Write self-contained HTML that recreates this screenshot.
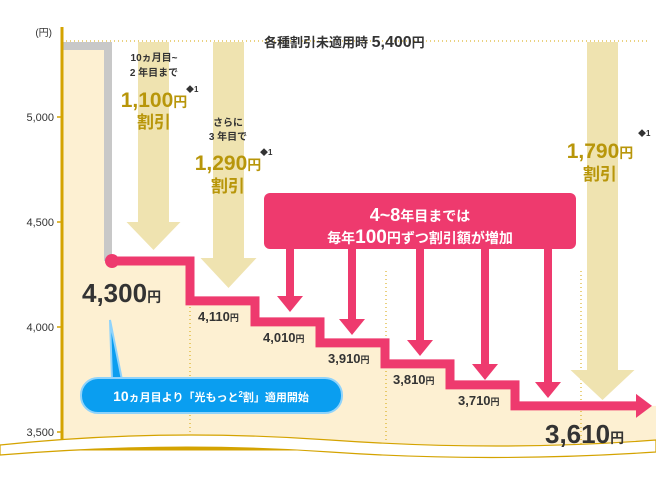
<!DOCTYPE html>
<html><head><meta charset="utf-8"><style>
body{margin:0;background:#fff;}
svg{display:block;font-family:"Liberation Sans","Noto Sans CJK JP",sans-serif;}
</style></head><body>
<svg id="c" width="656" height="477" viewBox="0 0 656 477">
<g id="bg"></g>
<g id="marks"></g>
</svg>
<script>
const yTicks=[5000,4500,4000,3500];
const prices=[4300,4110,4010,3910,3810,3710,3610];
const priceLabels=["4,300","4,110","4,010","3,910","3,810","3,710","3,610"];
const basePrice=5400;
const NS="http://www.w3.org/2000/svg";
const svg=document.getElementById('c');
const bg=document.getElementById('bg'),mk=document.getElementById('marks');
function y(v){return 114+(5000-v)*0.21;}
function x(i){return i===0?112:190+(i-1)*65;}
function el(t,a,p){const e=document.createElementNS(NS,t);for(const k in a)e.setAttribute(k,a[k]);(p||mk).appendChild(e);return e;}
const GOLD="#d4a300",PINK="#ee3a6e",BEIGE="#efe3b0",CREAM="#fdf0d2";
// cream area under line
let d="M62 50 L108 50 L108 "+y(prices[0]);
for(let i=0;i<prices.length;i++){d+=" L"+x(i)+" "+y(prices[i])+" L"+(i<prices.length-1?x(i+1):656)+" "+y(prices[i]);}
d+=" L656 449 L62 449Z";
let a=el('path',{d:d,fill:CREAM},bg);


// dotted gridlines
[190,386,581].forEach(gx=>{let g=el('line',{x1:gx,y1:y(prices[0])+10,x2:gx,y2:449,stroke:GOLD,'stroke-width':1,'stroke-dasharray':'1 3'},bg);});
let dl=el('line',{x1:62,y1:41,x2:650,y2:41,stroke:GOLD,'stroke-width':1,'stroke-dasharray':'1 3'},bg);

// beige discount arrows
function beige(x1,x2,top,headTop,tip,hw,name){let cx=(x1+x2)/2;let p=el('path',{d:`M${x1} ${top}H${x2}V${headTop}H${cx+hw}L${cx} ${tip}L${cx-hw} ${headTop}H${x1}Z`,fill:BEIGE});}
beige(138,169,42,222,250,27,'discount-arrow-1100');
beige(213,244,42,258,288,28,'discount-arrow-1290');
beige(587,618,42,370,400,32,'discount-arrow-1790');
// gray step
let gs=el('path',{d:`M62 46 H108 V${y(prices[0])}`,fill:'none',stroke:'#c8c8c8','stroke-width':8});

// axes
let ax=el('path',{d:'M62 27 V449 H656',fill:'none',stroke:GOLD,'stroke-width':3});

yTicks.forEach(v=>{let t=el('line',{x1:57,x2:62,y1:y(v)+3,y2:y(v)+3,stroke:GOLD,'stroke-width':1.5});
let tx=el('text',{x:54,y:y(v)+7,'text-anchor':'end','font-size':11,fill:'#333'});tx.textContent=v.toLocaleString('en');});
let yu=el('text',{x:52,y:36,'text-anchor':'end','font-size':10,fill:'#333'});yu.textContent='(円)';
// wave break
let wv=el('path',{d:'M0 445 Q160 428 330 440 T656 440 V452 Q490 463 330 452 T0 455Z',fill:'#fff',stroke:GOLD,'stroke-width':1.2});

// pink step line
let pd="M"+x(0)+" "+y(prices[0]);
for(let i=0;i<prices.length;i++){pd+=" H"+(i<prices.length-1?x(i+1):640);if(i<prices.length-1)pd+=" V"+y(prices[i+1]);}
let pl=el('path',{d:pd,fill:'none',stroke:PINK,'stroke-width':9});

let ah=el('path',{d:`M636 ${y(prices[6])-12} L652 ${y(prices[6])} L636 ${y(prices[6])+12}Z`,fill:PINK});

let dot=el('circle',{cx:x(0),cy:y(prices[0]),r:7,fill:PINK});

// pink arrows from box
for(let i=1;i<prices.length-1;i++){let cx=x(i)+33+ (i-1)*0;let tip=y(prices[i])+(i===1?-12:-8);
let cxx=[0,290,352,420,485,548][i];tip=[0,312,335,356,380,398][i];
let p=el('path',{d:`M${cxx-4} 245 V${tip-16} H${cxx-13} L${cxx} ${tip} L${cxx+13} ${tip-16} H${cxx+4} V245Z`,fill:PINK});
}
let box=el('rect',{x:264,y:193,width:312,height:56,rx:6,fill:PINK});

function txt(s,xx,yy,size,fill,anchor,weight,name){let t=el('text',{x:xx,y:yy,'font-size':size,fill:fill,'text-anchor':anchor||'start','font-weight':weight||'bold'});t.innerHTML=s;return t;}
txt('4~8<tspan font-size="14">年目までは</tspan>',420,221,18,'#fff','middle','bold','callout-line-1');
txt('毎年<tspan font-size="19">100</tspan>円ずつ割引額が増加',420,243,14,'#fff','middle','bold','callout-line-2');
// price labels
txt(priceLabels[0]+'<tspan font-size="14">円</tspan>',82,302,26,'#333','start','bold','price-label-start');
for(let i=1;i<6;i++){txt(priceLabels[i]+'<tspan font-size="9">円</tspan>',x(i)+8,y(prices[i])+20,13,'#333','start','bold','price-label');}
txt(priceLabels[6]+'<tspan font-size="14">円</tspan>',545,443,26,'#333','start','bold','price-label-end');
// base price
let bt=txt('各種割引未適用時 <tspan font-size="16">5,400</tspan>円',264,47,13,'#333','start','bold','base-price-label');
// gold discount texts
const G="#b8960a";
txt('10ヵ月目~',154,61,10,'#333','middle','bold','period-label-1');
txt('2 年目まで',154,76,10,'#333','middle','bold','period-label-1b');
txt('1,100<tspan font-size="14">円</tspan>',154,107,21,G,'middle','bold','discount-1100');
txt('割引',154,128,17,G,'middle','bold','discount-label');
txt('◆1',186,92,8,'#333','start','bold','footnote');
txt('さらに',228,126,10,'#333','middle','bold','period-label-2');
txt('3 年目で',228,140,10,'#333','middle','bold','period-label-2b');
txt('1,290<tspan font-size="14">円</tspan>',228,170,21,G,'middle','bold','discount-1290');
txt('割引',228,192,17,G,'middle','bold','discount-label');
txt('◆1',260,155,8,'#333','start','bold','footnote');
txt('1,790<tspan font-size="14">円</tspan>',600,158,21,G,'middle','bold','discount-1790');
txt('割引',600,180,17,G,'middle','bold','discount-label');
txt('◆1',638,136,8,'#333','start','bold','footnote');
// blue callout
let bc=el('path',{d:'M110 320 L112 380 L122 380 Z',fill:'#0a9ef0',stroke:'#8fd3fb','stroke-width':2});

let br=el('rect',{x:81,y:378,width:261,height:35,rx:17,fill:'#0a9ef0',stroke:'#8fd3fb','stroke-width':2});

txt('<tspan font-size="14">10</tspan>ヵ月目より「光もっと<tspan font-size="8" dy="-4">2</tspan><tspan dy="4">割」適用開始</tspan>',211,401,11,'#fff','middle','bold','start-callout-text');
</script>
</body></html>
